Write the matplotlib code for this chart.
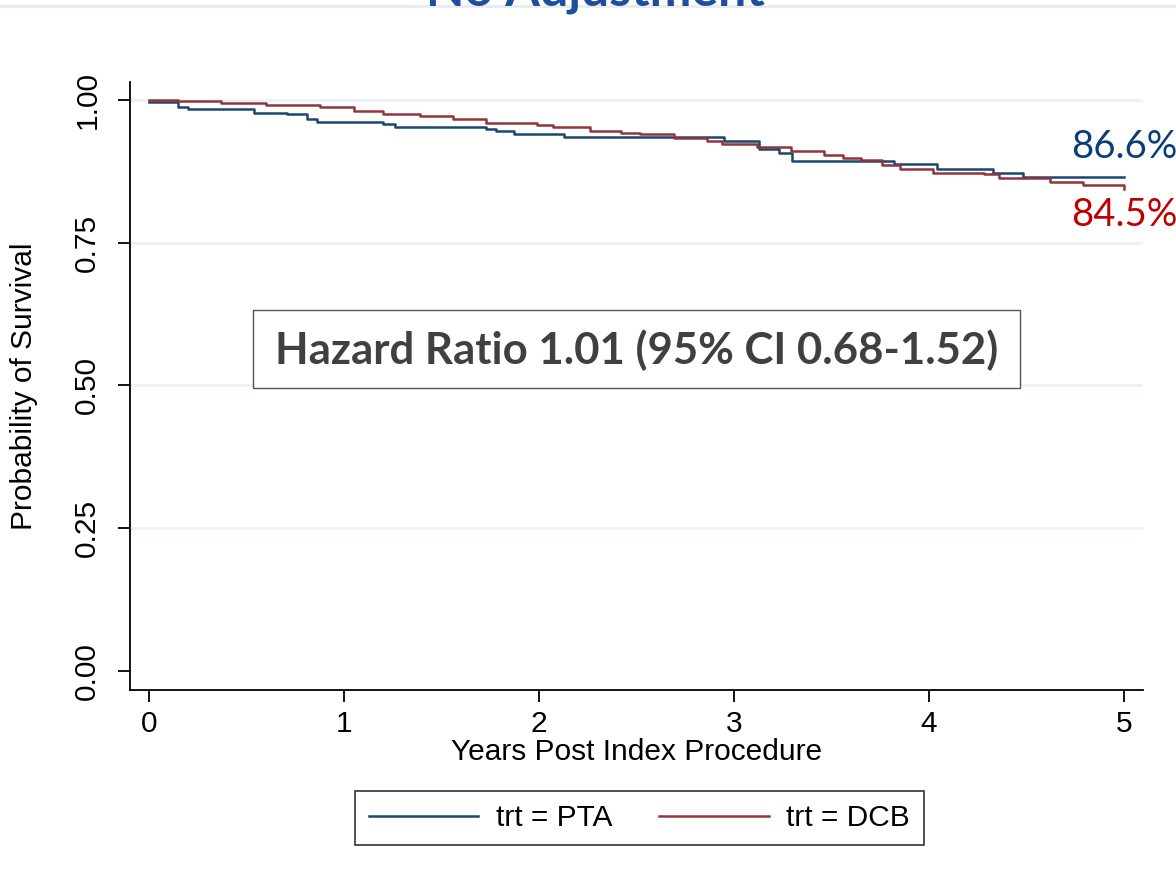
import matplotlib.pyplot as plt
from matplotlib.patches import Rectangle
from matplotlib.lines import Line2D

# Kaplan-Meier estimates
pta_t = [0, 0.15, 0.20, 0.54, 0.71, 0.81, 0.86, 1.20, 1.26, 1.73, 1.78, 1.87, 2.13,
         2.95, 3.13, 3.23, 3.30, 3.82, 4.04, 4.33, 4.48, 5.0]
pta_s = [0.997, 0.988, 0.984, 0.978, 0.975, 0.967, 0.962, 0.958, 0.953, 0.949, 0.945,
         0.940, 0.935, 0.928, 0.914, 0.907, 0.893, 0.888, 0.880, 0.873, 0.866, 0.866]

dcb_t = [0, 0.15, 0.37, 0.60, 0.88, 1.05, 1.20, 1.39, 1.56, 1.73, 1.99, 2.07, 2.26, 2.42,
         2.52, 2.69, 2.86, 2.94, 3.12, 3.29, 3.46, 3.56, 3.65, 3.76, 3.85, 4.02, 4.28,
         4.36, 4.62, 4.79, 5.0]
dcb_s = [1.0, 0.998, 0.994, 0.991, 0.987, 0.980, 0.976, 0.972, 0.966, 0.959, 0.956, 0.952,
         0.946, 0.943, 0.940, 0.933, 0.928, 0.923, 0.917, 0.911, 0.904, 0.898, 0.895,
         0.886, 0.880, 0.873, 0.870, 0.863, 0.856, 0.851, 0.845]

yticks = [0.0, 0.25, 0.5, 0.75, 1.0]
xticks = [0, 1, 2, 3, 4, 5]

blue = "#1a476f"
red = "#90353b"

plt.rcParams['font.family'] = ['Liberation Sans', 'DejaVu Sans']

fig = plt.figure(figsize=(11.76, 8.82), dpi=100)
ax = fig.add_axes([0.1105, 0.2177, 0.8614, 0.6893])

for y in yticks[1:]:
    ax.axhline(y, color="#eaf2f3", lw=2, zorder=0)

ax.plot(pta_t, pta_s, drawstyle="steps-post", color=blue, lw=1.8, label="trt = PTA")
ax.plot(dcb_t, dcb_s, drawstyle="steps-post", color=red, lw=1.8, label="trt = DCB")

ax.set_xlim(-0.097, 5.097)
ax.set_ylim(-0.0333, 1.0315)
ax.set_xticks(xticks)
ax.set_yticks(yticks)
ax.set_yticklabels(["%.2f" % v for v in yticks], rotation=90, va="center")
ax.tick_params(labelsize=21.5, length=8.6, width=1.3)
ax.tick_params(axis="x", pad=6)
ax.tick_params(axis="y", pad=12)
for s in ["top", "right"]:
    ax.spines[s].set_visible(False)
for s in ["left", "bottom"]:
    ax.spines[s].set_linewidth(1.3)

ax.set_xlabel("Years Post Index Procedure", fontsize=21.5, labelpad=0)
ax.set_ylabel("Probability of Survival", fontsize=21.5)
ax.yaxis.set_label_coords(-0.091, 0.5)

ax.text(4.73, 0.918, "86.6%", color="#0b3d78", fontsize=27.5, family="Lato",
        va="center", ha="left", clip_on=False)
ax.text(4.73, 0.799, "84.5%", color="#c00000", fontsize=27.5, family="Lato",
        va="center", ha="left", clip_on=False)

# hazard ratio box
ax.add_patch(Rectangle((0.533, 0.496), 3.934, 0.136, facecolor="white",
                       edgecolor="#555555", lw=1.0, zorder=3))
ax.text(2.5, 0.562, "Hazard Ratio 1.01 (95% CI 0.68-1.52)", fontsize=31.5,
        family="Lato", weight="bold", color="#404040", ha="center", va="center", zorder=4)

leg = fig.legend(loc="center", bbox_to_anchor=(0.5438, 0.0726), ncol=2, fontsize=21.5,
                 frameon=True, fancybox=False, edgecolor="black", handlelength=3.66,
                 columnspacing=1.57, handletextpad=0.6, borderpad=0.45)
leg.get_frame().set_linewidth(1.2)

# cut-off title at the top
fig.text(0.506, 1 - 6 / 882, "No Adjustment", fontsize=36, family="Lato", weight="bold",
         color="#1f4e9c", ha="center", va="baseline")
fig.add_artist(Line2D([0, 1], [1 - 6 / 882, 1 - 6 / 882], color="#e6ecf0", lw=2))

fig.savefig("out.png", dpi=100)
